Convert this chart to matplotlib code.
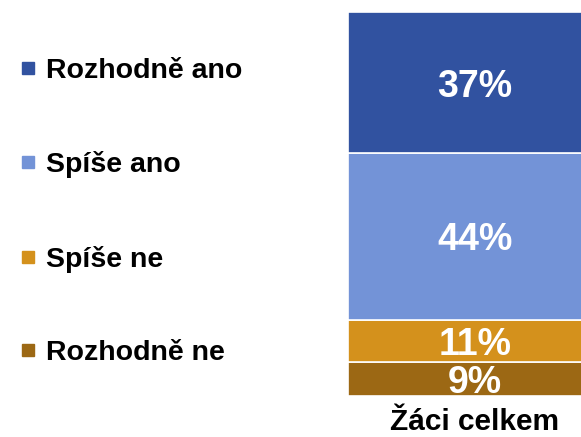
import matplotlib
matplotlib.use("Agg")
import matplotlib.pyplot as plt
from matplotlib.lines import Line2D

plt.rcParams['font.family'] = ['Liberation Sans', 'DejaVu Sans']

category = "Žáci celkem"
series = ["Rozhodně ano", "Spíše ano", "Spíše ne", "Rozhodně ne"]
values = [37, 44, 11, 9]
labels = ["37%", "44%", "11%", "9%"]
colors = ["#3152A0", "#7393D7", "#D4911C", "#9C6814"]

W, H = 581, 437
fig = plt.figure(figsize=(W / 100, H / 100), dpi=100)

x0, x1 = 348, 602
ytop, ybot = 12, 396
ax = fig.add_axes([x0 / W, 1 - ybot / H, (x1 - x0) / W, (ybot - ytop) / H])

# stack from bottom: Rozhodně ne, Spíše ne, Spíše ano, Rozhodně ano
bottom = 0
for name, v, lab, c in reversed(list(zip(series, values, labels, colors))):
    ax.bar(0, v, bottom=bottom, width=1.0, color=c, edgecolor='white', linewidth=1.2)
    ax.annotate(lab, (0, bottom + v / 2), xytext=(0, -3), textcoords='offset points',
                ha='center', va='center', color='white',
                fontsize=27, fontweight='bold')
    bottom += v

ax.set_xlim(-0.5, 0.5)
ax.set_ylim(0, sum(values))
ax.set_xticks([0])
ax.set_xticklabels([category], fontsize=21.5, fontweight='bold')
ax.tick_params(axis='x', length=0, pad=9)
ax.set_yticks([])
for s in ax.spines.values():
    s.set_visible(False)

handles = [Line2D([], [], marker='s', linestyle='none', markersize=9.2,
                  markerfacecolor=c, markeredgecolor=c) for c in colors]
leg = fig.legend(handles, series, loc='upper left', bbox_to_anchor=(0.0, 1 - 44 / H),
                 frameon=False, prop={'size': 20.5, 'weight': 'bold'},
                 labelspacing=2.36, handletextpad=0.1, handlelength=1.0,
                 borderaxespad=0, borderpad=0.5)

fig.savefig("out.png", dpi=100)
